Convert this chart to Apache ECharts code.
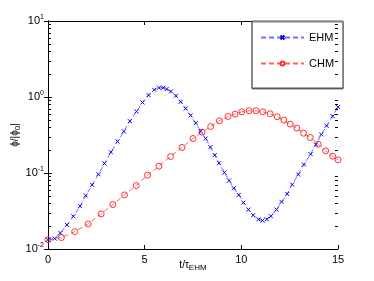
<!DOCTYPE html>
<html><head><meta charset="utf-8">
<script src="https://cdn.jsdelivr.net/npm/echarts@6/dist/echarts.min.js"></script>
<style>html,body{margin:0;padding:0;background:#fff}#c{width:374px;height:281px}</style>
</head><body><div id="c"></div>
<script>
const ehmT = [0,0.346,0.639,0.985,1.313,1.659,1.953,2.281,2.609,2.920,3.249,3.594,3.923,4.234,4.579,4.890,5.201,5.495,5.737,5.962,6.134,6.359,6.618,6.860,7.119,7.378,7.638,7.897,8.156,8.398,8.623,8.847,9.124,9.366,9.608,9.867,10.109,10.368,10.610,10.886,11.094,11.318,11.526,11.819,12.079,12.373,12.632,12.943,13.236,13.582,13.858,14.135,14.412,14.723,15.0];
const ehmPhi = [0.01327,0.01371,0.01626,0.02075,0.02698,0.03656,0.05047,0.06982,0.09638,0.1334,0.1879,0.2600,0.3516,0.4808,0.6457,0.8472,1.059,1.245,1.324,1.324,1.271,1.183,1.038,0.8650,0.7063,0.5715,0.4529,0.3556,0.2844,0.2188,0.1718,0.1346,0.1014,0.0796,0.0631,0.0515,0.0408,0.0330,0.0278,0.0246,0.0237,0.0246,0.0270,0.0330,0.0417,0.0531,0.0705,0.0955,0.1294,0.1770,0.2371,0.3214,0.4178,0.5598,0.7362];
const chmT = [0,0.691,1.382,2.074,2.748,3.352,3.957,4.562,5.149,5.737,6.342,6.929,7.500,7.966,8.415,8.865,9.314,9.677,10.022,10.403,10.765,11.111,11.491,11.854,12.200,12.528,12.874,13.219,13.565,13.980,14.360,14.723,15.0];
const chmPhi = [0.01327,0.01413,0.01694,0.02138,0.02897,0.03846,0.0515,0.0684,0.0935,0.1230,0.1648,0.2168,0.2844,0.3451,0.4093,0.4864,0.5546,0.5957,0.6383,0.6592,0.6592,0.6383,0.6012,0.5495,0.4966,0.4395,0.3890,0.3342,0.2931,0.2393,0.1959,0.1663,0.1489];
const xTicks = [0,5,10,15];
const yExp = {'10':'1','1':'0','0.1':'-1','0.01':'-2'};
const seriesNames = ['EHM','CHM'];
const xLabel = ['t/τ','EHM'];
const yLabel = ['ϕ/|ϕ','0','|'];
const minorMant = [2,3,4,5,6,7,8,9];
const minorDecades = [0.01,0.1,1];

const font = 'Liberation Sans, Arial, Helvetica, sans-serif';
const chart = echarts.init(document.getElementById('c'), null, {renderer:'canvas'});
const axisCommon = {
  axisLine:{show:true,lineStyle:{color:'#000',width:1}},
  axisTick:{show:true,inside:true,length:4,lineStyle:{color:'#000'}},
  splitLine:{show:false}
};
const minorData = [];
minorDecades.forEach(d => minorMant.forEach(m => minorData.push([0, m * d])));
const nameRich = {a:{fontFamily:font,fontSize:10,color:'#000'},s:{fontFamily:font,fontSize:8,color:'#000',padding:[6,0,0,0]}};

chart.setOption({
  animation:false,
  backgroundColor:'#fff',
  grid:{left:48,top:21,width:290,height:228,containLabel:false,outerBoundsMode:'none'},
  graphic:[{
    type:'text',x:15,y:135,rotation:Math.PI/2,
    style:{text:'{a|'+yLabel[0]+'}{s|'+yLabel[1]+'}{a|'+yLabel[2]+'}',rich:nameRich,align:'center',verticalAlign:'middle'}
  }],
  xAxis:[
    Object.assign({type:'value',min:0,max:15,interval:5,position:'bottom',
      axisLabel:{color:'#000',fontFamily:font,fontSize:11,margin:5},
      name:'{a|'+xLabel[0]+'}{s|'+xLabel[1]+'}',nameLocation:'middle',nameGap:9,nameMoveOverlap:false,
      nameTextStyle:{rich:nameRich}
    },axisCommon),
    Object.assign({type:'value',min:0,max:15,interval:5,position:'top',axisLabel:{show:false}},axisCommon)
  ],
  yAxis:[
    Object.assign({type:'log',min:0.01,max:10,logBase:10,position:'left',
      axisLabel:{fontFamily:font,margin:4,formatter:function(v){
        const k = String(+v.toPrecision(3)); return '{b|10}{s|'+(yExp[k]||'')+'}';},
        rich:{b:{fontFamily:font,fontSize:11,color:'#000'},s:{fontFamily:font,fontSize:7,color:'#000',padding:[0,0,8,0]}}}
    },axisCommon),
    Object.assign({type:'log',min:0.01,max:10,logBase:10,position:'right',axisLabel:{show:false}},axisCommon)
  ],
  legend:{
    left:252,top:21,orient:'vertical',padding:[11,9,19,8],itemGap:15,itemWidth:43,itemHeight:5,
    backgroundColor:'#fff',borderColor:'#555',borderWidth:1,borderRadius:0,
    shadowColor:'rgba(0,0,0,0.5)',shadowOffsetX:0,shadowOffsetY:1,shadowBlur:0,
    textStyle:{fontFamily:font,fontSize:11,color:'#000',padding:[0,0,0,0]},
    data:seriesNames
  },
  series:[
    {name:seriesNames[0],type:'line',xAxisIndex:0,yAxisIndex:0,data:ehmT.map((t,i)=>[t,ehmPhi[i]]),
      symbol:'path://M0,0L10,10M10,0L0,10',symbolSize:4,showAllSymbol:true,
      lineStyle:{color:'#7070ff',width:1,type:[5,3]},
      itemStyle:{color:'none',borderColor:'#0000ff',borderWidth:1},z:3},
    {name:seriesNames[1],type:'line',xAxisIndex:0,yAxisIndex:0,data:chmT.map((t,i)=>[t,chmPhi[i]]),
      symbol:'circle',symbolSize:6,showAllSymbol:true,
      lineStyle:{color:'#ff6060',width:1,type:[5,3]},
      itemStyle:{color:'none',borderColor:'#ff3030',borderWidth:1},z:2},
    {type:'custom',xAxisIndex:0,yAxisIndex:0,silent:true,data:minorData,clip:false,z:10,
      encode:{x:0,y:1},
      renderItem:function(params,api){
        const v = api.value(1);
        const a = api.coord([0,v]); const b = api.coord([15,v]);
        const y = Math.round(a[1]) + 0.5;
        const xl = Math.round(a[0]), xr = Math.round(b[0]);
        return {type:'group',children:[
          {type:'line',shape:{x1:xl,y1:y,x2:xl+3,y2:y},style:{stroke:'#000',lineWidth:1}},
          {type:'line',shape:{x1:xr,y1:y,x2:xr-3,y2:y},style:{stroke:'#000',lineWidth:1}}
        ]};
      }}
  ]
});
</script></body></html>
